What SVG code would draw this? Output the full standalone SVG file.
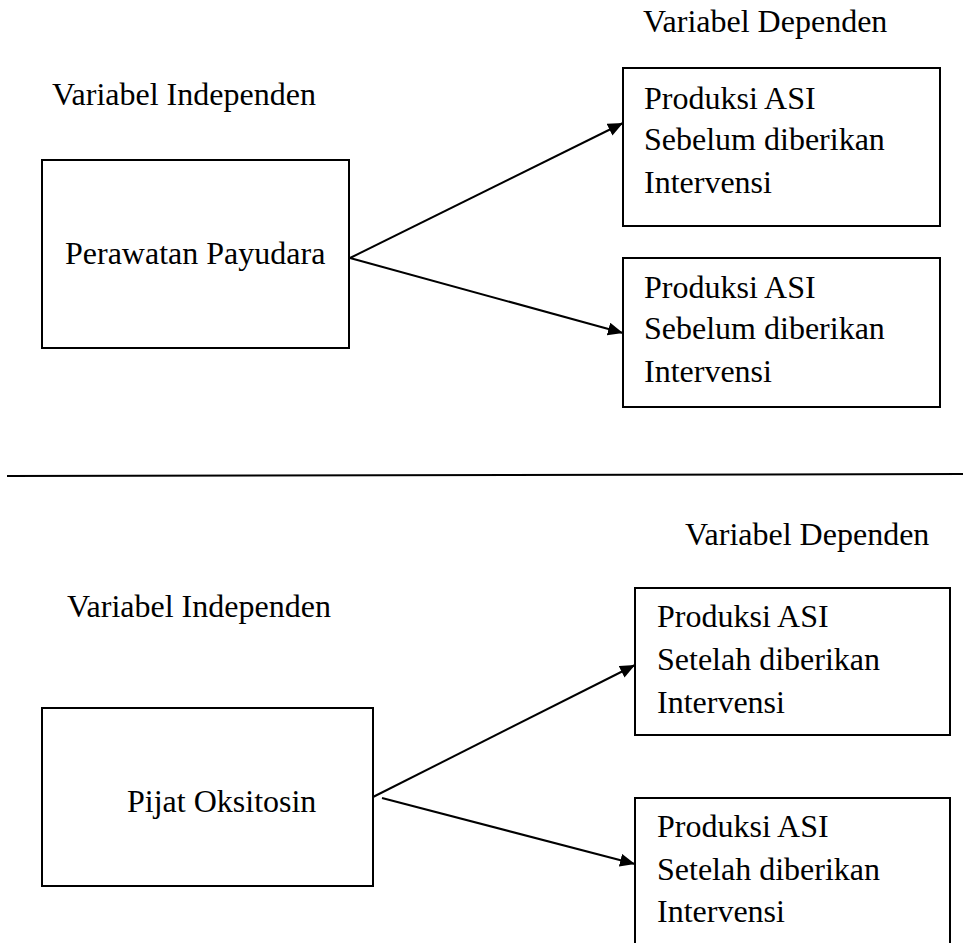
<svg xmlns="http://www.w3.org/2000/svg" width="963" height="943" viewBox="0 0 963 943">
<style>
.box{fill:#fff;stroke:#000;stroke-width:2}
.t{font-family:"Liberation Serif","Times New Roman",serif;font-size:32px;fill:#000}
.c{stroke:#000;stroke-width:2;fill:none;marker-end:url(#ah)}
</style>
<defs>
<marker id="ah" markerUnits="userSpaceOnUse" markerWidth="16" markerHeight="14" refX="15" refY="6.5" orient="auto">
<path d="M0,0 L15,6.5 L0,13 z" fill="#000"/>
</marker>
</defs>
<rect width="963" height="943" fill="#fff"/>
<text class="t" x="643" y="32">Variabel Dependen</text>
<text class="t" x="52" y="105">Variabel Independen</text>
<text class="t" x="685" y="545">Variabel Dependen</text>
<text class="t" x="67" y="617">Variabel Independen</text>
<line x1="7" y1="476" x2="963" y2="474" stroke="#000" stroke-width="2"/>
<g id="connectors">
<line class="c" x1="350" y1="258" x2="623" y2="123"/>
<line class="c" x1="350" y1="258" x2="623" y2="333"/>
<line class="c" x1="373" y1="797" x2="635" y2="665"/>
<line class="c" x1="382" y1="798" x2="635" y2="864"/>
</g>
<g id="perawatan">
<rect class="box" x="42" y="160" width="307" height="188"/>
<text class="t" x="65" y="264">Perawatan Payudara</text>
</g>
<g id="top-dep1">
<rect class="box" x="623" y="68" width="317" height="158"/>
<text class="t" x="644" y="109">Produksi ASI</text>
<text class="t" x="644" y="150">Sebelum diberikan</text>
<text class="t" x="644" y="193">Intervensi</text>
</g>
<g id="top-dep2">
<rect class="box" x="623" y="258" width="317" height="149"/>
<text class="t" x="644" y="298">Produksi ASI</text>
<text class="t" x="644" y="339">Sebelum diberikan</text>
<text class="t" x="644" y="382">Intervensi</text>
</g>
<g id="pijat">
<rect class="box" x="42" y="708" width="331" height="178"/>
<text class="t" x="127" y="812">Pijat Oksitosin</text>
</g>
<g id="bot-dep1">
<rect class="box" x="635" y="588" width="315" height="147"/>
<text class="t" x="657" y="627">Produksi ASI</text>
<text class="t" x="657" y="670">Setelah diberikan</text>
<text class="t" x="657" y="713">Intervensi</text>
</g>
<g id="bot-dep2">
<rect class="box" x="635" y="798" width="315" height="170"/>
<text class="t" x="657" y="837">Produksi ASI</text>
<text class="t" x="657" y="880">Setelah diberikan</text>
<text class="t" x="657" y="922">Intervensi</text>
</g>
</svg>
